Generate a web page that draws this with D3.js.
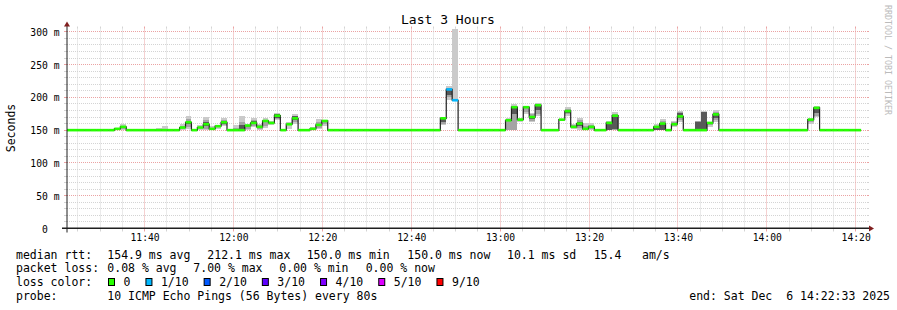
<!DOCTYPE html>
<html>
<head>
<meta charset="utf-8">
<script src="https://cdn.jsdelivr.net/npm/d3@7"></script>
<style>
  body { margin: 0; background: #fff; }
  svg text { font-family: "DejaVu Sans Mono", monospace; white-space: pre; }
</style>
</head>
<body>
<svg id="chart" width="897" height="310"></svg>
<script>
// median rtt (ms) per 80 s step, starting 11:22:33
const medianMs = [
  150, 150, 150, 150, 150, 150, 150, 150, 152, 155,
  150, 150, 150, 150, 150, 150, 150, 150, 150, 154,
  162, 150, 154, 159, 152, 156, 162, 150, 150, 150,
  157, 161, 155, 164, 161, 172, 150, 159, 168, 150,
  150, 152, 158, 164, 150, 150, 150, 150, 150, 150,
  150, 150, 150, 150, 150, 150, 150, 150, 150, 150,
  150, 150, 150, 168, 212.1, 195.6, 150, 150, 150, 150,
  150, 150, 150, 150, 165, 185, 166, 185, 170, 188,
  150, 150, 150, 166, 179, 155, 160, 152, 155, 150,
  150, 161, 172, 150, 150, 150, 150, 150, 150, 155,
  160, 150, 159, 171, 150, 150, 150, 150, 161, 174,
  150, 150, 150, 150, 150, 150, 150, 150, 150, 150,
  150, 150, 150, 150, 150, 166, 184, 150, 150, 150,
  150, 150, 150, 150
];
// lost pings out of 10 per step
const lossTenths = [
  0, 0, 0, 0, 0, 0, 0, 0, 0, 0,
  0, 0, 0, 0, 0, 0, 0, 0, 0, 0,
  0, 0, 0, 0, 0, 0, 0, 0, 0, 0,
  0, 0, 0, 0, 0, 0, 0, 0, 0, 0,
  0, 0, 0, 0, 0, 0, 0, 0, 0, 0,
  0, 0, 0, 0, 0, 0, 0, 0, 0, 0,
  0, 0, 0, 0, 1, 1, 0, 0, 0, 0,
  0, 0, 0, 0, 0, 0, 0, 0, 0, 0,
  0, 0, 0, 0, 0, 0, 0, 0, 0, 0,
  0, 0, 0, 0, 0, 0, 0, 0, 0, 0,
  0, 0, 0, 0, 0, 0, 0, 0, 0, 0,
  0, 0, 0, 0, 0, 0, 0, 0, 0, 0,
  0, 0, 0, 0, 0, 0, 0, 0, 0, 0,
  0, 0, 0, 0
];

// smoke: spread of the pings for the steps where it shows
const smokeSteps = [8, 9, 15, 16, 19, 20, 22, 23, 24, 25, 26, 28, 29, 30, 31, 32, 33, 34, 35, 37, 38, 39, 41, 42, 43,
  63, 64, 65, 74, 75, 76, 77, 78, 79, 83, 84, 85, 86, 87, 88, 91, 92, 99, 100, 102, 103, 106, 107, 108, 109, 125, 126];
const outerLo = [150, 150, 150, 150, 150, 152, 150, 150, 150, 152, 156, 150, 150, 150, 155, 150, 153, 158, 165, 152, 160, 150, 150, 152, 157,
  158, 196, 194, 150, 150, 163, 175, 162, 172, 164, 172, 152, 150, 150, 150, 150, 150, 150, 150, 155, 163, 150, 150, 155, 163, 160, 170];
const outerHi = [153, 159, 153, 156, 159, 171, 158, 170, 156, 158, 168, 158, 171, 160, 168, 160, 168, 164, 176, 162, 174, 152, 155, 167, 166,
  170, 217, 305, 168, 190, 169, 187, 176, 192, 167, 186, 160, 168, 161, 161, 164, 177, 159, 167, 164, 179, 164, 179, 163, 180, 168, 187];
const midLo = [null, 152, null, null, 151, 155, null, 152, null, null, 158, 150, 150, 152, 157, 152, 156, null, 167, null, 162, null, null, 154, 160,
  160, 200, 194, 150, 150, null, 178, 164, 175, null, 174, 153, 153, 150, 152, 150, 150, 150, 150, 157, 165, 150, 150, 158, 165, 162, 172];
const midHi = [null, 157, null, null, 157, 167, null, 166, null, null, 166, 154, 163, 158, 166, 158, 166, null, 175, null, 172, null, null, 163, 165,
  168, 214, 197, 164, 187, null, 186, 174, 190, null, 183, 158, 165, 156, 158, 163, 175, 157, 164, 162, 177, 164, 178, 162, 178, 167, 186];
const coreLo = [null, null, null, null, null, 159, null, 156, null, null, 160, null, 150, null, 159, null, null, null, 169, null, 165, null, null, 156, null,
  162, 203, null, null, 175, null, null, 167, 180, null, 176, null, 156, null, null, 150, 152, 150, 150, null, 168, 150, 150, null, 168, null, 176];
const coreHi = [null, null, null, null, null, 164, null, 163, null, null, 164, null, 158, null, 164, null, null, null, 174, null, 171, null, null, 160, null,
  167, 212, null, null, 185, null, null, 172, 188, null, 181, null, 163, null, null, 161, 172, 155, 160, null, 176, 163, 177, null, 176, null, 185];

const yTickValues = [0, 50, 100, 150, 200, 250, 300];
const lossLabels = ["0", "1/10", "2/10", "3/10", "4/10", "5/10", "9/10"];
const lossColors = ["#26ff00", "#00b8ff", "#0059ff", "#5e00ff", "#7e00ff", "#dd00ff", "#ff0000"];
const rttStats = ["154.9 ms avg", "212.1 ms max", "150.0 ms min", "150.0 ms now", "10.1 ms sd", "15.4", "am/s"];
const lossStats = ["0.08 % avg", "7.00 % max", "0.00 % min", "0.00 % now"];
const probeText = "10 ICMP Echo Pings (56 Bytes) every 80s";
const endText = "end: Sat Dec  6 14:22:33 2025";

const X0 = 67, X1 = 867, Y0 = 228.5, Y1 = 28.5;
const stepMs = 80 * 1000;
const tStart = Date.UTC(2025, 11, 6, 11, 22, 33);
const tEnd = tStart + 3 * 3600 * 1000;
const stepTime = i => tStart + i * stepMs;

const x = d3.scaleUtc().domain([tStart, tEnd]).range([X0, X1]);
const y = d3.scaleLinear().domain([0, 305]).range([Y0, Y1]);
const crisp = v => Math.round(v - 0.5) + 0.5;

const svg = d3.select("#chart");
svg.append("rect").attr("width", 897).attr("height", 310).attr("fill", "#fff");

const gridColor = "#d4d4d4", mgridColor = "#eba3a3";

// horizontal grid, minor every 10 ms, major on the labels
const grid = svg.append("g");
d3.range(10, 301, 10).forEach(v => {
  const major = v % 50 === 0;
  const yy = crisp(y(v));
  grid.append("line").attr("x1", X0).attr("x2", X1).attr("y1", yy).attr("y2", yy)
    .attr("stroke", major ? mgridColor : gridColor).attr("stroke-dasharray", "1,1");
  grid.append("line").attr("x1", X0 - 3).attr("x2", X0).attr("y1", yy).attr("y2", yy)
    .attr("stroke", major ? mgridColor : gridColor);
  grid.append("line").attr("x1", X1).attr("x2", X1 + 2).attr("y1", yy).attr("y2", yy)
    .attr("stroke", major ? mgridColor : gridColor);
});

// vertical grid, minor every 5 min, major every 20 min
const majorTimes = x.ticks(d3.utcMinute.every(20)).map(d => +d);
x.ticks(d3.utcMinute.every(5)).forEach(d => {
  const major = majorTimes.includes(+d);
  const xx = crisp(x(d));
  grid.append("line").attr("x1", xx).attr("x2", xx).attr("y1", Y1).attr("y2", Y0)
    .attr("stroke", major ? mgridColor : gridColor).attr("stroke-dasharray", "1,1");
  grid.append("line").attr("x1", xx).attr("x2", xx).attr("y1", Y0).attr("y2", Y0 + 3)
    .attr("stroke", major ? mgridColor : gridColor);
  grid.append("line").attr("x1", xx).attr("x2", xx).attr("y1", Y1 - 2).attr("y2", Y1)
    .attr("stroke", major ? mgridColor : gridColor);
});

// smoke
const smoke = svg.append("g").attr("shape-rendering", "crispEdges");
const bands = [[outerLo, outerHi, "#cacaca"], [midLo, midHi, "#a4a4a4"], [coreLo, coreHi, "#585858"]];
smokeSteps.forEach((s, k) => {
  const xa = x(stepTime(s)), xb = x(stepTime(s + 1));
  bands.forEach(([lo, hi, col]) => {
    if (lo[k] == null) return;
    smoke.append("rect")
      .attr("x", xa).attr("width", xb - xa)
      .attr("y", y(hi[k])).attr("height", y(lo[k]) - y(hi[k]))
      .attr("fill", col);
  });
});

// median line
const pts = medianMs.map((v, i) => [stepTime(i), v]);
pts.push([stepTime(medianMs.length), medianMs[medianMs.length - 1]]);
svg.append("path")
  .datum(pts)
  .attr("fill", "none")
  .attr("stroke", "#202020")
  .attr("stroke-width", 1.2)
  .attr("d", d3.line().x(d => x(d[0])).y(d => y(d[1])).curve(d3.curveStepAfter));

// loss colour band around the median
const lossIndex = n => n === 0 ? 0 : n <= 4 ? n : n <= 8 ? 5 : 6;
svg.append("g").selectAll("rect")
  .data(medianMs)
  .join("rect")
  .attr("x", (d, i) => x(stepTime(i)))
  .attr("width", (d, i) => x(stepTime(i + 1)) - x(stepTime(i)))
  .attr("y", d => y(d) - 1.3)
  .attr("height", 2.6)
  .attr("fill", (d, i) => lossColors[lossIndex(lossTenths[i])]);

// axes
const axisColor = "#1f1f1f", arrowColor = "#801f1f";
svg.append("line").attr("x1", X0 - 5).attr("x2", X1 + 4).attr("y1", Y0 - 0.3).attr("y2", Y0 - 0.3)
  .attr("stroke", axisColor).attr("stroke-width", 1.4);
svg.append("line").attr("x1", X0).attr("x2", X0).attr("y1", Y0 + 4).attr("y2", Y1 - 4)
  .attr("stroke", axisColor).attr("stroke-width", 1);
svg.append("path").attr("d", `M${X1 + 2},${Y0 - 3}L${X1 + 7},${Y0}L${X1 + 2},${Y0 + 3}Z`).attr("fill", arrowColor);
svg.append("path").attr("d", `M${X0 - 3},${Y1 - 2}L${X0},${Y1 - 7}L${X0 + 3},${Y1 - 2}Z`).attr("fill", arrowColor);

const axisFont = 9.7;
const gx = svg.append("g").attr("transform", `translate(0,${Y0})`)
  .call(d3.axisBottom(x).ticks(d3.utcMinute.every(20)).tickFormat(d3.utcFormat("%H:%M")).tickSize(0).tickPadding(6));
gx.select(".domain").remove();
gx.attr("font-family", null).attr("font-size", axisFont);
gx.selectAll("text").attr("fill", "#000");

const gy = svg.append("g").attr("transform", `translate(${X0},0)`)
  .call(d3.axisLeft(y).tickValues(yTickValues)
    .tickFormat(v => v === 0 ? "0  " : String(v).padStart(3, " ") + " m")
    .tickSize(0).tickPadding(7.5));
gy.select(".domain").remove();
gy.attr("font-family", null).attr("font-size", axisFont);
gy.selectAll("text").attr("fill", "#000").attr("dy", "0.36em");

// titles
svg.append("text").attr("x", 448).attr("y", 24).attr("text-anchor", "middle")
  .attr("font-size", 13).text("Last 3 Hours");
svg.append("text").attr("transform", "translate(15,128) rotate(-90)").attr("text-anchor", "middle")
  .attr("font-size", 11.5).text("Seconds");
svg.append("text").attr("transform", "translate(885,5) rotate(90)")
  .attr("font-size", 8.3).attr("fill", "#bbbbbb").text("RRDTOOL / TOBI OETIKER");

// legend
const lf = 11.5;
const legend = svg.append("g").attr("font-size", lf).attr("fill", "#000");
const row1X = [107.3, 207.3, 306.7, 407.3, 507, 593.7, 642];
const row2X = [107.3, 193.3, 279.3, 365.7];
legend.append("text").attr("x", 16).attr("y", 258.5).text("median rtt:");
rttStats.forEach((s, i) => legend.append("text").attr("x", row1X[i]).attr("y", 258.5).text(s));
legend.append("text").attr("x", 16).attr("y", 272.3).text("packet loss:");
lossStats.forEach((s, i) => legend.append("text").attr("x", row2X[i]).attr("y", 272.3).text(s));
legend.append("text").attr("x", 16).attr("y", 286.2).text("loss color:");
let bx = 108.5;
lossLabels.forEach((lab, i) => {
  legend.append("rect").attr("x", bx).attr("y", 278.5).attr("width", 6).attr("height", 7)
    .attr("fill", lossColors[i]).attr("stroke", "#000").attr("stroke-width", 1);
  const t = legend.append("text").attr("x", bx + 15).attr("y", 286.2).text(lab);
  bx += 15 + t.node().getComputedTextLength() + 15.5;
});
legend.append("text").attr("x", 16).attr("y", 300).text("probe:");
legend.append("text").attr("x", 107.3).attr("y", 300).text(probeText);
legend.append("text").attr("x", 890).attr("y", 300).attr("text-anchor", "end").text(endText);
</script>
</body>
</html>
